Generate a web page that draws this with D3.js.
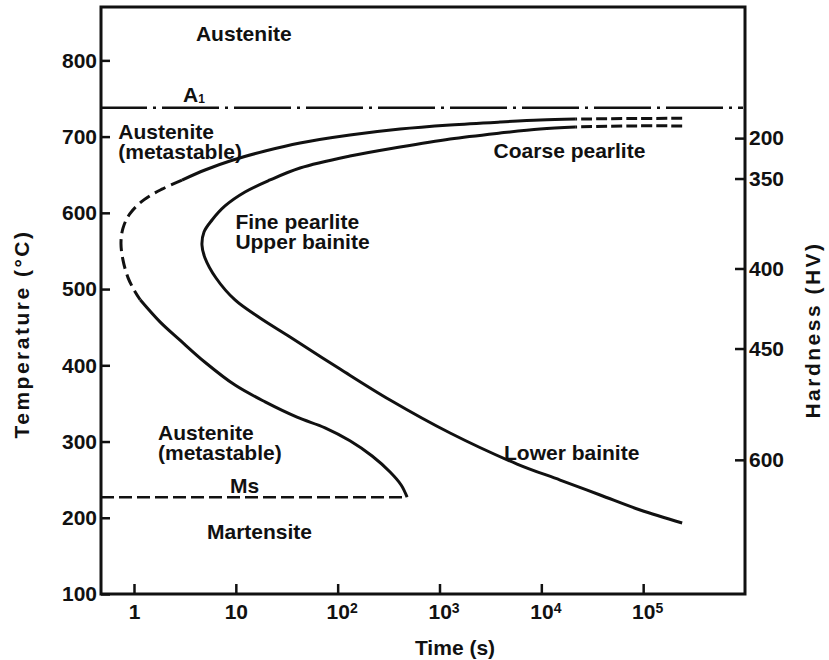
<!DOCTYPE html>
<html>
<head>
<meta charset="utf-8">
<script src="https://cdn.jsdelivr.net/npm/d3@7"></script>
<style>
  html, body { margin: 0; padding: 0; background: #fff; }
  svg { display: block; }
  text { font-family: "Liberation Sans", Arial, Helvetica, sans-serif; font-weight: bold; fill: #111; }
</style>
</head>
<body>
<svg id="chart" width="829" height="660"></svg>
<script>
// ---------- data ----------
// Time axis (s), log scale
const timeTicks = [1, 10, 100, 1000, 10000, 100000];
const timeTickExp = [null, null, 2, 3, 4, 5];
// Temperature axis (°C)
const tempTicks = [100, 200, 300, 400, 500, 600, 700, 800];
// Hardness axis (HV) labels and the temperatures they sit at
const hardnessLabels = ["200", "350", "400", "450", "600"];
const hardnessTemps = [698, 645, 527, 422, 276];

// Equilibrium A1 and martensite start temperatures
const a1Temp = 738;
const msTemp = 227;
const msEndTime = 481;

// Transformation start curve
const startTailTime = [241500, 74500, 21500];                       // dashed
const startTailTemp = [724, 723.7, 723];
const startUpperTime = [21500, 9730, 3937, 1271, 410, 132, 42.7, 19.4, 9.38, 4.98, 2.96]; // solid
const startUpperTemp = [723, 721.7, 719.1, 715.2, 709.9, 702, 691.6, 681.1, 669.3, 656.2, 643];
const startNoseTime = [2.96, 1.88, 1.25, 0.913, 0.78, 0.745, 0.78, 0.873, 1.0, 1.15]; // dashed
const startNoseTemp = [643, 631, 617, 599, 580, 560, 538, 515, 499, 486];
const startLowerTime = [1.15, 1.8, 2.83, 4.98, 9.82, 19.4, 39.9, 75.2, 132, 218, 327, 420, 481]; // solid
const startLowerTemp = [486, 457, 433, 404, 374, 352, 332, 318, 301, 281, 260, 243, 227];

// Transformation finish curve
const finishTailTime = [241500, 74500, 21500];                      // dashed
const finishTailTemp = [714, 714, 712.6];
const finishTime = [21500, 9730, 3937, 1271, 410, 132, 42.7, 21.7, 12.3, 7.83, 5.84, 4.87, 4.65, 4.98, 6.39, 9.82, 17.3, 34.1, 105.6, 327, 1271, 5780, 15300, 37800, 93500, 241500]; // solid
const finishTemp = [712.6, 710, 704.7, 696.9, 686.4, 674.5, 658.8, 643.1, 627.3, 609, 590.6, 574.9, 557.8, 540.8, 514.5, 485.7, 462, 437.1, 395.1, 354.5, 311.2, 270.5, 249.5, 229.9, 210.2, 193.1];

// Region labels
const regionLabels = [
  { lines: ["Austenite"], t: 4.06, T: 825 },
  { lines: ["Austenite", "(metastable)"], t: 0.70, T: 697 },
  { lines: ["Coarse pearlite"], t: 3.4e3, T: 672 },
  { lines: ["Fine pearlite", "Upper bainite"], t: 9.9, T: 579 },
  { lines: ["Austenite", "(metastable)"], t: 1.72, T: 302 },
  { lines: ["Ms"], t: 8.77, T: 233 },
  { lines: ["Martensite"], t: 5.21, T: 172 },
  { lines: ["Lower bainite"], t: 4.3e3, T: 276 }
];

// ---------- layout ----------
const W = 829, H = 660;
const margin = { left: 101, top: 7, right: 84, bottom: 66 };
const svg = d3.select("#chart");

const x = d3.scaleLog().domain([Math.pow(10, -0.324), 1e6]).range([margin.left, W - margin.right]);
const y = d3.scaleLinear().domain([100, 870]).range([H - margin.bottom, margin.top]);

const FS = 21;

// frame
svg.append("rect")
  .attr("x", margin.left).attr("y", margin.top)
  .attr("width", W - margin.left - margin.right)
  .attr("height", H - margin.top - margin.bottom)
  .attr("fill", "none").attr("stroke", "#111").attr("stroke-width", 3);

// left axis
const gL = svg.append("g").attr("transform", `translate(${margin.left},0)`)
  .call(d3.axisLeft(y).tickValues(tempTicks).tickSizeInner(-9).tickSizeOuter(0).tickPadding(4));
gL.select(".domain").remove();
gL.selectAll("line").attr("stroke", "#111").attr("stroke-width", 2.5);
gL.selectAll("text").style("font-size", FS + "px").attr("fill", "#111");

// bottom axis
const gB = svg.append("g").attr("transform", `translate(0,${H - margin.bottom})`)
  .call(d3.axisBottom(x).tickValues(timeTicks).tickSizeInner(-10).tickSizeOuter(0).tickPadding(10).tickFormat(() => ""));
gB.select(".domain").remove();
gB.selectAll("line").attr("stroke", "#111").attr("stroke-width", 2.5);
gB.selectAll(".tick text").each(function(d, i) {
  const t = d3.select(this).style("font-size", FS + "px");
  if (timeTickExp[i] == null) {
    t.text(d);
  } else {
    t.text("10");
    t.append("tspan").attr("dy", "-0.45em").style("font-size", "14px").text(timeTickExp[i]);
  }
});
gB.selectAll(".tick text").filter((d, i) => timeTickExp[i] != null).attr("text-anchor", "start").attr("dx", "-0.55em");

// right axis (hardness)
const hScale = d3.scaleOrdinal().domain(hardnessTemps).range(hardnessLabels);
const gR = svg.append("g").attr("transform", `translate(${W - margin.right},0)`)
  .call(d3.axisRight(y).tickValues(hardnessTemps).tickSizeInner(-10).tickSizeOuter(0).tickPadding(4).tickFormat(d => hScale(d)));
gR.select(".domain").remove();
gR.selectAll("line").attr("stroke", "#111").attr("stroke-width", 2.5);
gR.selectAll("text").style("font-size", FS + "px").attr("fill", "#111");

// axis titles
svg.append("text").attr("x", 455).attr("y", 655).attr("text-anchor", "middle")
  .style("font-size", FS + "px").text("Time (s)");
svg.append("text").attr("transform", "translate(29,334) rotate(-90)").attr("text-anchor", "middle")
  .style("font-size", FS + "px").style("letter-spacing", "2.5px").text("Temperature (°C)");
svg.append("text").attr("transform", "translate(820,330) rotate(-90)").attr("text-anchor", "middle")
  .style("font-size", FS + "px").style("letter-spacing", "2.5px").text("Hardness (HV)");

// A1 line
svg.append("line")
  .attr("x1", margin.left).attr("x2", W - margin.right - 2)
  .attr("y1", y(a1Temp)).attr("y2", y(a1Temp))
  .attr("stroke", "#111").attr("stroke-width", 2.5)
  .attr("stroke-dasharray", "57,6,3,6").attr("stroke-dashoffset", 11);
const a1 = svg.append("text").attr("x", x(3.03)).attr("y", y(a1Temp) - 6).style("font-size", FS + "px").text("A");
a1.append("tspan").attr("dy", "0.15em").style("font-size", "12px").text("1");

// Ms line
svg.append("line")
  .attr("x1", margin.left).attr("x2", x(msEndTime))
  .attr("y1", y(msTemp)).attr("y2", y(msTemp))
  .attr("stroke", "#111").attr("stroke-width", 2.5)
  .attr("stroke-dasharray", "13,5");

// curves
const line = d3.line().x(d => x(d[0])).y(d => y(d[1])).curve(d3.curveCatmullRom.alpha(0.5));
function drawCurve(times, temps, dash) {
  const pts = times.map((t, i) => [t, temps[i]]);
  svg.append("path").datum(pts).attr("d", line)
    .attr("fill", "none").attr("stroke", "#111").attr("stroke-width", 3)
    .attr("stroke-linecap", "butt")
    .attr("stroke-dasharray", dash || null);
}
drawCurve(startTailTime, startTailTemp, "11,4");
drawCurve(startUpperTime, startUpperTemp);
drawCurve(startNoseTime, startNoseTemp, "12,6");
drawCurve(startLowerTime, startLowerTemp);
drawCurve(finishTailTime, finishTailTemp, "11,4");
drawCurve(finishTime, finishTemp);

// region labels
regionLabels.forEach(r => {
  const t = svg.append("text").attr("x", x(r.t)).attr("y", y(r.T)).style("font-size", FS + "px");
  r.lines.forEach((s, i) => {
    t.append("tspan").attr("x", x(r.t)).attr("dy", i === 0 ? 0 : "0.95em").text(s);
  });
});
</script>
</body>
</html>
